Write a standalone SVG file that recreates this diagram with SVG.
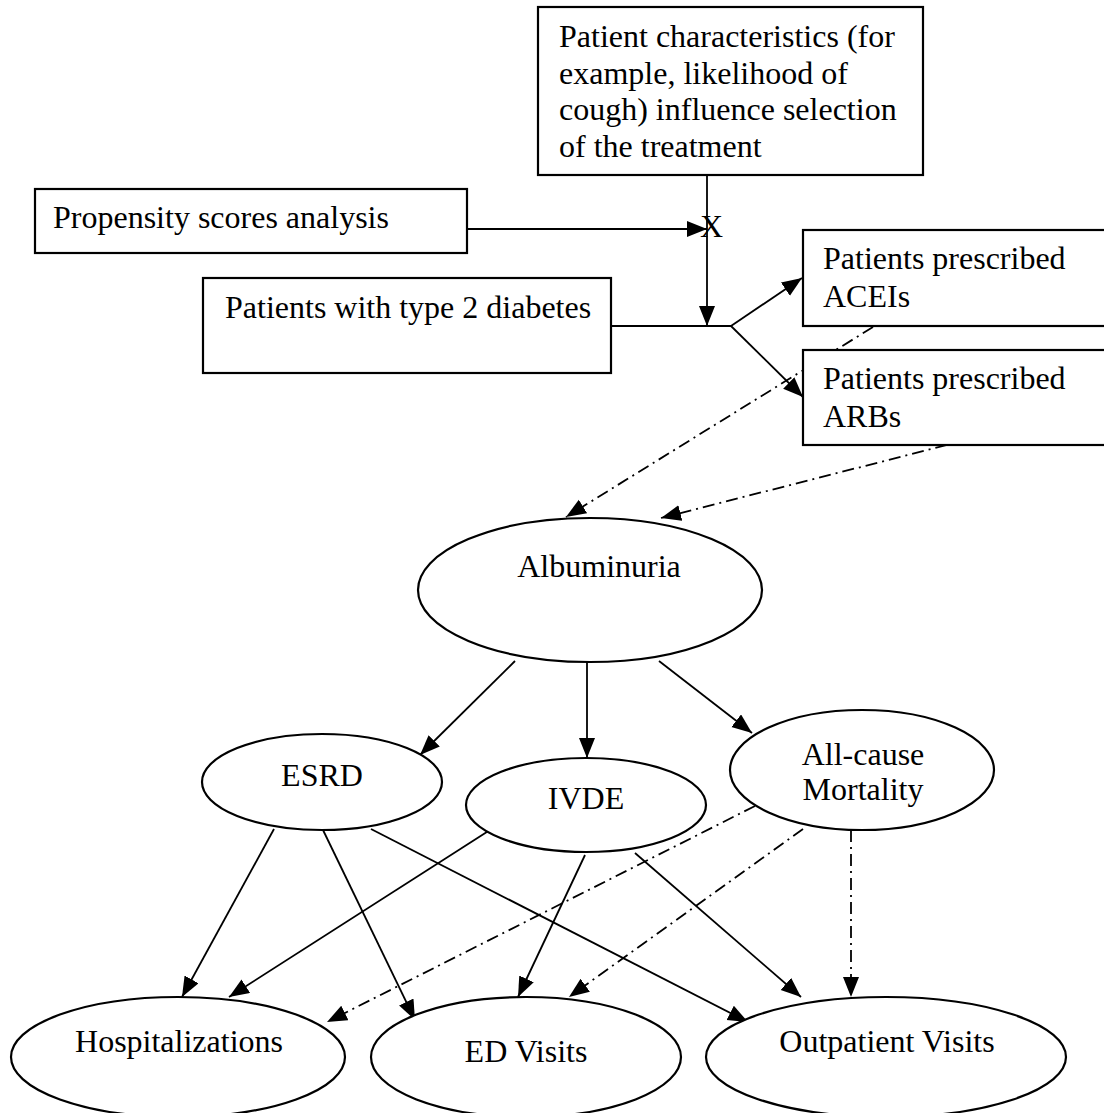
<svg xmlns="http://www.w3.org/2000/svg" width="1104" height="1113" viewBox="0 0 1104 1113">
<defs>
<style>
.box{fill:#fff;stroke:#000;stroke-width:2.2}
.ell{fill:#fff;stroke:#000;stroke-width:2.2}
.t{font-family:"Liberation Serif","Times New Roman",serif;font-size:32px;fill:#000}
.c{text-anchor:middle}
.ln{fill:none;stroke:#000;stroke-width:1.8}
.dd{fill:none;stroke:#000;stroke-width:1.8;stroke-dasharray:12 5 2 5}
</style>
<marker id="ah" markerUnits="userSpaceOnUse" markerWidth="22" markerHeight="18" refX="20" refY="8" orient="auto">
<path d="M0,0 L20,8 L0,16 z" fill="#000"/>
</marker>
</defs>
<rect width="1104" height="1113" fill="#fff"/>

<g id="connectors">
<line class="ln" x1="467" y1="229" x2="707" y2="229" marker-end="url(#ah)"/>
<line class="ln" x1="707" y1="175" x2="707" y2="326" marker-end="url(#ah)"/>
<polyline class="ln" points="611,326 731,326"/>
<line class="ln" x1="731" y1="326" x2="802" y2="278" marker-end="url(#ah)"/>
<line class="ln" x1="731" y1="326" x2="803" y2="397" marker-end="url(#ah)"/>
<line class="dd" x1="873" y1="327" x2="566" y2="517" marker-end="url(#ah)"/>
<line class="dd" x1="947" y1="445" x2="661" y2="518" marker-end="url(#ah)"/>
<line class="ln" x1="515" y1="661" x2="420" y2="755" marker-end="url(#ah)"/>
<line class="ln" x1="587" y1="662" x2="587" y2="758" marker-end="url(#ah)"/>
<line class="ln" x1="659" y1="661" x2="752" y2="733" marker-end="url(#ah)"/>
<line class="ln" x1="274" y1="829" x2="182" y2="997" marker-end="url(#ah)"/>
<line class="ln" x1="323" y1="830" x2="415" y2="1020" marker-end="url(#ah)"/>
<line class="ln" x1="371" y1="829" x2="748" y2="1022" marker-end="url(#ah)"/>
<line class="ln" x1="490" y1="830" x2="229" y2="997" marker-end="url(#ah)"/>
<line class="ln" x1="585" y1="855" x2="518" y2="997" marker-end="url(#ah)"/>
<line class="ln" x1="635" y1="853" x2="801" y2="997" marker-end="url(#ah)"/>
<line class="dd" x1="755" y1="806" x2="327" y2="1022" marker-end="url(#ah)"/>
<line class="dd" x1="803" y1="829" x2="569" y2="997" marker-end="url(#ah)"/>
<line class="dd" x1="851" y1="830" x2="851" y2="997" marker-end="url(#ah)"/>
</g>

<g id="patient-characteristics">
<rect class="box" x="538" y="7" width="385" height="168"/>
<text class="t" x="559" y="47">Patient characteristics (for</text>
<text class="t" x="559" y="84">example, likelihood of</text>
<text class="t" x="559" y="120">cough) influence selection</text>
<text class="t" x="559" y="157">of the treatment</text>
</g>

<g id="propensity">
<rect class="box" x="35" y="189" width="432" height="64"/>
<text class="t" x="53" y="228">Propensity scores analysis</text>
</g>

<g id="x-mark">
<text class="t" x="700" y="237">X</text>
</g>

<g id="diabetes">
<rect class="box" x="203" y="278" width="408" height="95"/>
<text class="t" x="225" y="318">Patients with type 2 diabetes</text>
</g>

<g id="acei">
<rect class="box" x="803" y="230" width="310" height="96"/>
<text class="t" x="823" y="269">Patients prescribed</text>
<text class="t" x="823" y="307">ACEIs</text>
</g>

<g id="arb">
<rect class="box" x="803" y="350" width="310" height="95"/>
<text class="t" x="823" y="389">Patients prescribed</text>
<text class="t" x="823" y="427">ARBs</text>
</g>

<g id="albuminuria">
<ellipse class="ell" cx="590" cy="590" rx="172" ry="72"/>
<text class="t c" x="599" y="577">Albuminuria</text>
</g>

<g id="esrd">
<ellipse class="ell" cx="322" cy="782" rx="120" ry="48"/>
<text class="t c" x="322" y="786">ESRD</text>
</g>

<g id="ivde">
<ellipse class="ell" cx="586" cy="805" rx="120" ry="47"/>
<text class="t c" x="586" y="809">IVDE</text>
</g>

<g id="mortality">
<ellipse class="ell" cx="862" cy="770" rx="132" ry="60"/>
<text class="t c" x="863" y="765">All-cause</text>
<text class="t c" x="863" y="800">Mortality</text>
</g>

<g id="hospitalizations">
<ellipse class="ell" cx="178" cy="1057" rx="167" ry="60"/>
<text class="t c" x="179" y="1052">Hospitalizations</text>
</g>

<g id="ed-visits">
<ellipse class="ell" cx="526" cy="1057" rx="155" ry="60"/>
<text class="t c" x="526" y="1062">ED Visits</text>
</g>

<g id="outpatient">
<ellipse class="ell" cx="886" cy="1057" rx="180" ry="60"/>
<text class="t c" x="887" y="1052">Outpatient Visits</text>
</g>
</svg>
